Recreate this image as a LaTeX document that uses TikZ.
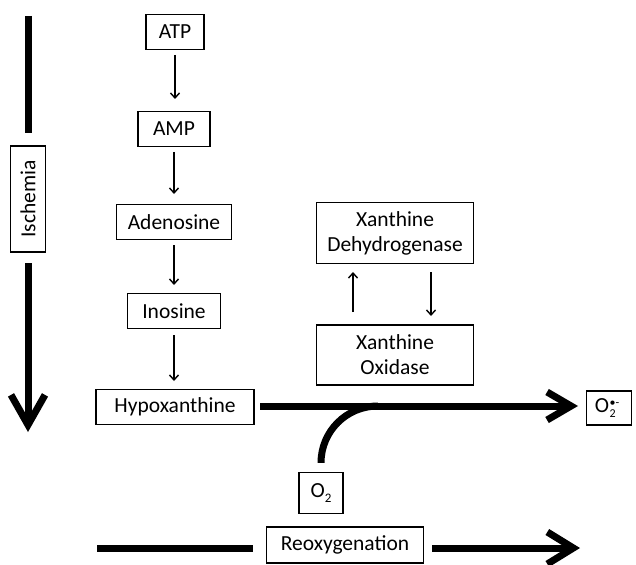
\documentclass[tikz,border=0pt]{standalone}
\usepackage{fontspec}
\setmainfont{Carlito}
\usetikzlibrary{arrows.meta}
\begin{document}
\begin{tikzpicture}[x=1pt,y=-1pt,
  box/.style={draw, line width=1.3pt, inner sep=0pt, font=\fontsize{21.5}{25}\selectfont, align=center, minimum height=35pt},
  thin/.style={line width=1.4pt, -{Straight Barb[length=5pt,width=9pt]}},
  thick/.style={line width=7pt, -{Straight Barb[length=24pt,width=28pt]}},
  thickline/.style={line width=7pt}]
\useasboundingbox (0,0) rectangle (636,564);
% pathway
\node[box, minimum width=58pt] (atp) at (175,32) {ATP};
\node[box, minimum width=72pt] (amp) at (174,129) {AMP};
\node[box, minimum width=115pt] (ade) at (174,222) {Adenosine};
\node[box, minimum width=93pt] (ino) at (174,311) {Inosine};
\node[box, minimum width=158pt] (hyp) at (175,407) {Hypoxanthine};
\draw[thin] (175,55) -- (175,99);
\draw[thin] (174,152) -- (174,194);
\draw[thin] (174,245) -- (174,285);
\draw[thin] (174,335) -- (174,381);
% ischemia
\node[box, rotate=90, minimum width=106pt, minimum height=35pt] (isc) at (28,199) {Ischemia};
\coordinate (istop) at (28,16);
\coordinate (ibot) at (28,133);
\coordinate (istart) at (28,263);
\coordinate (itip) at (28,432);
\draw[thickline] (istop) -- (ibot);
\draw[thickline, -{Straight Barb[length=30pt,width=34pt]}] (istart) -- (itip);
% xanthine enzymes
\node[box, minimum width=157pt, minimum height=61pt] (xdh) at (395,233) {Xanthine\\Dehydrogenase};
\node[box, minimum width=157pt, minimum height=60pt] (xo) at (395,355) {Xanthine\\Oxidase};
\draw[thin] (353,312) -- (353,272);
\draw[thin] (431,272) -- (431,316);
% main reaction
\node[box, minimum width=45pt, minimum height=34pt] (sup) at (609,408) {O\kern0.5pt\raisebox{-0.4ex}{\fontsize{12}{12.5}\selectfont\shortstack[l]{•-\\2}}\kern4pt};
\coordinate (mstart) at (260,406);
\coordinate (mtip) at (578,406);
\draw[thick] (mstart) -- (mtip);
\node[box, minimum width=44pt, minimum height=41pt] (o2) at (321,493) {O\raisebox{-0.5ex}{\fontsize{13}{13}\selectfont 2}};
\coordinate (join) at (378,406);
\draw[thickline] (o2.north) ++(0,-9) to[out=90,in=180] (join);
% reoxygenation
\node[box, minimum width=157pt, minimum height=36pt] (reo) at (345,545) {Reoxygenation};
\coordinate (rstart) at (97,548);
\coordinate (rtip) at (580,548);
\draw[thickline] (rstart) -- ([xshift=-13pt]reo.west |- rstart);
\draw[thickline, -{Straight Barb[length=26pt,width=32pt]}] ([xshift=8pt]reo.east |- rstart) -- (rtip);
\end{tikzpicture}
\end{document}
